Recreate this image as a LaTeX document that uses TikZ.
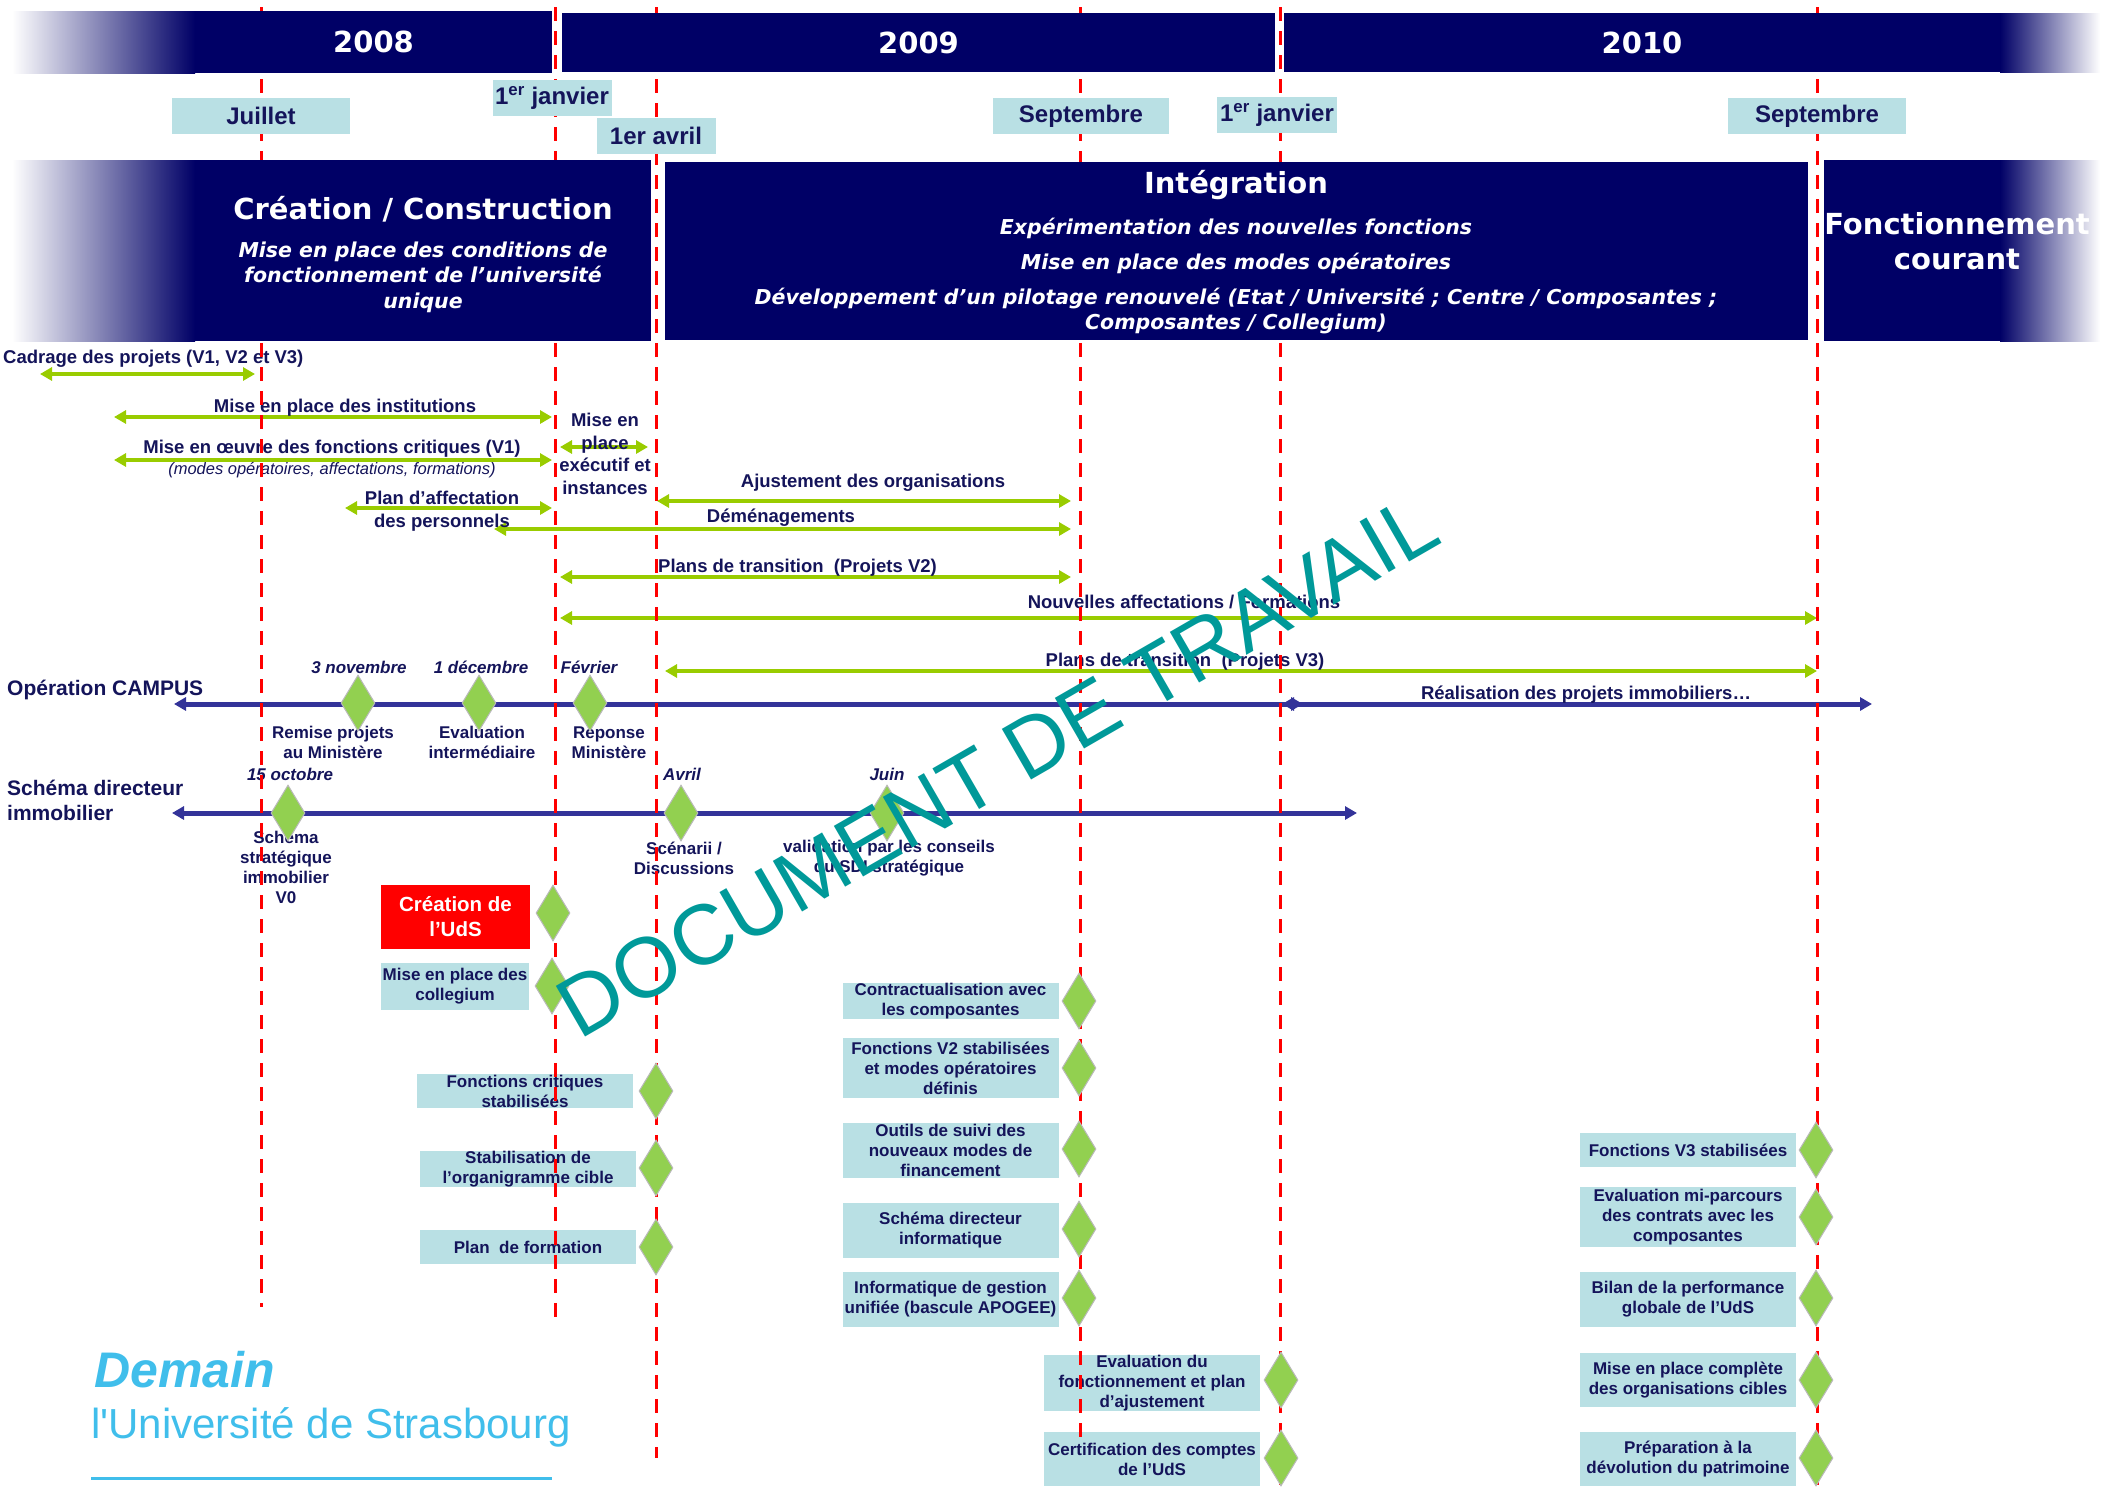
\documentclass[tikz,border=0pt]{standalone}
\usepackage{fontspec}
\setmainfont{Liberation Sans}
\newfontfamily\hdfont{DejaVu Sans}
\usetikzlibrary{arrows.meta,shapes.geometric,positioning}

\definecolor{barblue}{RGB}{0,0,102}
\definecolor{gradmid}{RGB}{150,150,168}
\definecolor{txtblue}{RGB}{20,20,90}
\definecolor{boxblue}{RGB}{185,224,228}
\definecolor{argreen}{RGB}{153,204,0}
\definecolor{msgreen}{RGB}{146,208,80}
\definecolor{axblue}{RGB}{51,51,153}
\definecolor{wmteal}{RGB}{0,153,153}
\definecolor{logoblue}{RGB}{64,190,235}

\newcommand{\lblfont}{\fontsize{18.5}{22.5}\selectfont\bfseries}
\newcommand{\captfont}{\fontsize{17}{20}\selectfont\bfseries}
\newcommand{\datefont}{\fontsize{17}{20}\selectfont\bfseries\itshape}
\newcommand{\axfont}{\fontsize{21}{25}\selectfont\bfseries}
\newcommand{\monthfont}{\fontsize{24}{28}\selectfont\bfseries}
\newcommand{\yearfont}{\hdfont\fontsize{29}{35}\selectfont\bfseries}
\newcommand{\subfont}{\hdfont\fontsize{20.5}{25.5}\selectfont\bfseries\itshape}

\begin{document}
\begin{tikzpicture}[x=1pt,y=-1pt,>={Triangle[length=12pt,width=13pt]}]
  \tikzstyle{lbl}=[font=\lblfont,text=txtblue,align=center,inner sep=0pt]
  \tikzstyle{capt}=[font=\captfont,text=txtblue,align=center,inner sep=0pt]
  \tikzstyle{dlbl}=[font=\datefont,text=txtblue,inner sep=0pt]
  \tikzstyle{garrow}=[<->,draw=argreen,line width=4pt]
  \tikzstyle{baxis}=[<->,draw=axblue,line width=5pt]
  \tikzstyle{tbox}=[fill=boxblue,font=\captfont,text=txtblue,align=center,inner sep=0pt,minimum width=216pt]
  \tikzstyle{mstone}=[diamond,fill=msgreen,draw=gray!55,line width=1pt,minimum width=34pt,minimum height=56pt,inner sep=0pt]
  \tikzstyle{dline}=[draw=red,line width=3pt,dash pattern=on 14pt off 10pt]
  \tikzstyle{mbox}=[fill=boxblue,font=\monthfont,text=txtblue,inner sep=0pt,minimum height=36pt]
  \tikzstyle{yearbar}=[fill=barblue,text=white,inner sep=0pt]
  \tikzstyle{fadein}=[left color=white,middle color=gradmid,right color=barblue]
  \tikzstyle{fadeout}=[left color=barblue,middle color=gradmid,right color=white]

  \useasboundingbox (0,0) rectangle (2112,1489);

  % activities
  \foreach \nm/\xa/\xb/\y in {cad/40/255/374, inst/114/552/417, crit/114/552/460,
      exec/560/648/447, ajust/657/1071/501, aff/345/552/508, dem/494/1071/529,
      trv2/560/1071/577, naff/560/1817/618, trv3/665/1817/671}{
    \coordinate (\nm-a) at (\xa,\y);
    \coordinate (\nm-b) at (\xb,\y);
    \draw[garrow] (\nm-a) -- (\nm-b);
  }

  \node[lbl,anchor=west] (t-cad)   at (3,359)   {Cadrage des projets (V1, V2 et V3)};
  \node[lbl]             (t-inst)  at (345,408) {Mise en place des institutions};
  \node[lbl]             (t-crit)  at (332,449) {Mise en œuvre des fonctions critiques (V1)};
  \node[text=txtblue,inner sep=0pt,font=\fontsize{16.5}{20}\selectfont\itshape]
                         (t-modes) at (332,470) {(modes opératoires, affectations, formations)};
  \node[lbl]             (t-exec)  at (605,454) {Mise en\\place\\exécutif et\\instances};
  \node[lbl]             (t-ajust) at (873,483) {Ajustement des organisations};
  \node[lbl]             (t-aff)   at (442,511) {Plan d’affectation\\des personnels};
  \node[lbl]             (t-dem)   at (781,518) {Déménagements};
  \node[lbl,anchor=west] (t-trv2)  at (658,568) {Plans de transition\ \ (Projets V2)};
  \node[lbl]             (t-naff)  at (1184,602) {Nouvelles affectations / Formations};
  \node[lbl]             (t-trv3)  at (1185,662) {Plans de transition\ \ (Projets V3)};

  % axes
  \coordinate (cp1-a) at (174,704);  \coordinate (cp1-b) at (1303,704);
  \coordinate (cp2-a) at (1282,704); \coordinate (cp2-b) at (1872,704);
  \coordinate (sdi-a) at (172,813);  \coordinate (sdi-b) at (1357,813);
  \draw[baxis] (cp1-a) -- (cp1-b);
  \draw[baxis] (cp2-a) -- (cp2-b);
  \draw[baxis] (sdi-a) -- (sdi-b);

  \node[font=\axfont,text=txtblue,inner sep=0pt,anchor=west] (t-campus) at (7,690) {Opération CAMPUS};
  \node[font=\axfont,text=txtblue,inner sep=0pt,anchor=west,align=left] (t-sdi) at (7,800) {Schéma directeur\\immobilier};
  \node[lbl] (t-real) at (1586,695) {Réalisation des projets immobiliers…};

  \node[dlbl] (d-3nov)  at (359,667) {3 novembre};
  \node[dlbl] (d-1dec)  at (481,667) {1 décembre};
  \node[dlbl] (d-fev)   at (589,667) {Février};
  \node[dlbl] (d-15oct) at (290,774) {15 octobre};
  \node[dlbl] (d-avr)   at (682,774) {Avril};
  \node[dlbl] (d-juin)  at (887,774) {Juin};

  \node[capt] (c-remise) at (333,742) {Remise projets\\au Ministère};
  \node[capt] (c-evali)  at (482,742) {Evaluation\\intermédiaire};
  \node[capt] (c-repon)  at (609,742) {Réponse\\Ministère};
  \node[capt] (c-ssi)    at (286,867) {Schéma\\stratégique\\immobilier\\V0};
  \node[capt] (c-scen)   at (684,858) {Scénarii /\\Discussions};
  \node[capt] (c-valid)  at (889,858) {validation par les conseils\\du SDI stratégique};

  % milestone boxes
  \node[fill=red,text=white,font=\fontsize{20.5}{25}\selectfont\bfseries,align=center,inner sep=0pt,
        minimum width=149pt,minimum height=64pt] (b-uds) at (455.5,917) {Création de\\l’UdS};
  \node[tbox,minimum width=148pt,minimum height=47pt] (b-coll)  at (455,986)   {Mise en place des\\collegium};
  \node[tbox,minimum height=34pt] (b-fcrit)  at (525,1091)  {Fonctions critiques\\stabilisées};
  \node[tbox,minimum height=34pt] (b-orga)   at (528,1169)  {Stabilisation de\\l’organigramme cible};
  \node[tbox,minimum height=34pt] (b-form)   at (528,1247)  {Plan\ \ de formation};
  \node[tbox,minimum height=34pt] (b-contr)  at (950.5,1001)  {Contractualisation avec\\les composantes};
  \node[tbox,minimum height=60pt] (b-fv2)    at (950.5,1068)  {Fonctions V2 stabilisées\\et modes opératoires\\définis};
  \node[tbox,minimum height=55pt] (b-outil)  at (950.5,1150)  {Outils de suivi des\\nouveaux modes de\\financement};
  \node[tbox,minimum height=55pt] (b-sdinf)  at (950.5,1230)  {Schéma directeur\\informatique};
  \node[tbox,minimum height=55pt] (b-apog)   at (950.5,1299)  {Informatique de gestion\\unifiée (bascule APOGEE)};
  \node[tbox,minimum height=55pt] (b-evalf)  at (1152,1383)   {Evaluation du\\fonctionnement et plan\\d’ajustement};
  \node[tbox,minimum height=54pt] (b-certif) at (1152,1459)   {Certification des comptes\\de l’UdS};
  \node[tbox,minimum height=34pt] (b-fv3)    at (1688,1150)   {Fonctions V3 stabilisées};
  \node[tbox,minimum height=60pt] (b-evmp)   at (1688,1217)   {Evaluation mi-parcours\\des contrats avec les\\composantes};
  \node[tbox,minimum height=55pt] (b-bilan)  at (1688,1299)   {Bilan de la performance\\globale de l’UdS};
  \node[tbox,minimum height=54pt] (b-mepc)   at (1688,1380)   {Mise en place complète\\des organisations cibles};
  \node[tbox,minimum height=54pt] (b-prep)   at (1688,1459)   {Préparation à la\\dévolution du patrimoine};

  % date lines
  \foreach \nm/\x/\yb in {jul/261/1307, jan9/555/1319, avr/656/1458, sep9/1080/1440,
      jan10/1280/1487, sep10/1817/1487}{
    \coordinate (\nm-t) at (\x,7);
    \coordinate (\nm-b) at (\x,\yb);
    \draw[dline] (\nm-t) -- (\nm-b);
  }

  % milestones
  \foreach \nm/\x/\y in {c3nov/358/703, c1dec/479/703, cfev/590/703, s15oct/288/813,
      savr/681/813, sjuin/887/813, uds/553/913, coll/552/986, fcrit/656/1091,
      orga/656/1168, form/656/1247, contr/1079/1001, fv2/1079/1068, outil/1079/1149,
      sdinf/1079/1229, apog/1079/1298, evalf/1281/1380, certif/1281/1458,
      fv3/1816/1150, evmp/1816/1217, bilan/1816/1298, mepc/1816/1380, prep/1816/1458}
    \node[mstone] (m-\nm) at (\x,\y) {};

  % years
  \shade[fadein]  (12,11) rectangle (195,73);
  \shade[fadeout] (2000,13) rectangle (2100,72);
  \node[yearbar,minimum width=357pt,minimum height=62pt,font=\yearfont] (y2008) at (373.5,42) {2008};
  \node[yearbar,minimum width=713pt,minimum height=59pt,font=\yearfont] (y2009) at (918.5,42.5) {2009};
  \node[yearbar,minimum width=716pt,minimum height=59pt,font=\yearfont] (y2010) at (1642,42.5) {2010};

  \node[mbox,minimum width=178pt] (mo-jul)   at (261,116)  {Juillet};
  \node[mbox,minimum width=119pt] (mo-jan9)  at (552,98)   {1\textsuperscript{er} janvier};
  \node[mbox,minimum width=119pt] (mo-avr)   at (656,136)  {1er avril};
  \node[mbox,minimum width=176pt] (mo-sep9)  at (1081,116) {Septembre};
  \node[mbox,minimum width=120pt] (mo-jan10) at (1277,115) {1\textsuperscript{er} janvier};
  \node[mbox,minimum width=178pt] (mo-sep10) at (1817,116) {Septembre};

  % phases
  \shade[fadein]  (12,160) rectangle (195,341);
  \shade[fadeout] (2000,160) rectangle (2100,341);
  \node[yearbar,minimum width=456pt,minimum height=181pt]  (p-crea)  at (423,250.5) {};
  \node[yearbar,minimum width=1143pt,minimum height=178pt] (p-integ) at (1236.5,251) {};
  \node[yearbar,minimum width=176pt,minimum height=181pt]  (p-fonct) at (1912,250.5) {};

  \node[text=white,font=\yearfont,inner sep=0pt] (p-crea-t) at (423,209) {Création / Construction};
  \node[text=white,font=\subfont,align=center,inner sep=0pt] (p-crea-s) at (423,277)
       {Mise en place des conditions de\\fonctionnement de l’université\\unique};
  \node[text=white,font=\yearfont,inner sep=0pt] (p-integ-t) at (1236,185) {Intégration};
  \node[text=white,font=\subfont,inner sep=0pt] (p-integ-1) at (1236,228) {Expérimentation des nouvelles fonctions};
  \node[text=white,font=\subfont,inner sep=0pt] (p-integ-2) at (1236,263) {Mise en place des modes opératoires};
  \node[text=white,font=\subfont,align=center,inner sep=0pt] (p-integ-3) at (1236,311)
       {Développement d’un pilotage renouvelé (Etat / Université ; Centre / Composantes ;\\Composantes / Collegium)};
  \node[text=white,font=\yearfont,align=center,inner sep=0pt] (p-fonct-t) at (1957,241) {Fonctionnement\\courant};

  % logo
  \node[text=logoblue,font=\fontsize{50}{50}\selectfont\bfseries\itshape,inner sep=0pt,anchor=base west]
       (logo1) at (94,1387) {Demain};
  \node[text=logoblue,font=\fontsize{42}{42}\selectfont,inner sep=0pt,anchor=base west]
       (logo2) at (91,1438) {l\textquotesingle Université de Strasbourg};
  \draw[logoblue,line width=3pt] (91,1478) -- (552,1478);

  % watermark
  \node[rotate=30,anchor=base,text=wmteal,font=\fontsize{85}{85}\selectfont,inner sep=0pt]
       (wm) at (1012,791) {DOCUMENT DE TRAVAIL};
\end{tikzpicture}
\end{document}
